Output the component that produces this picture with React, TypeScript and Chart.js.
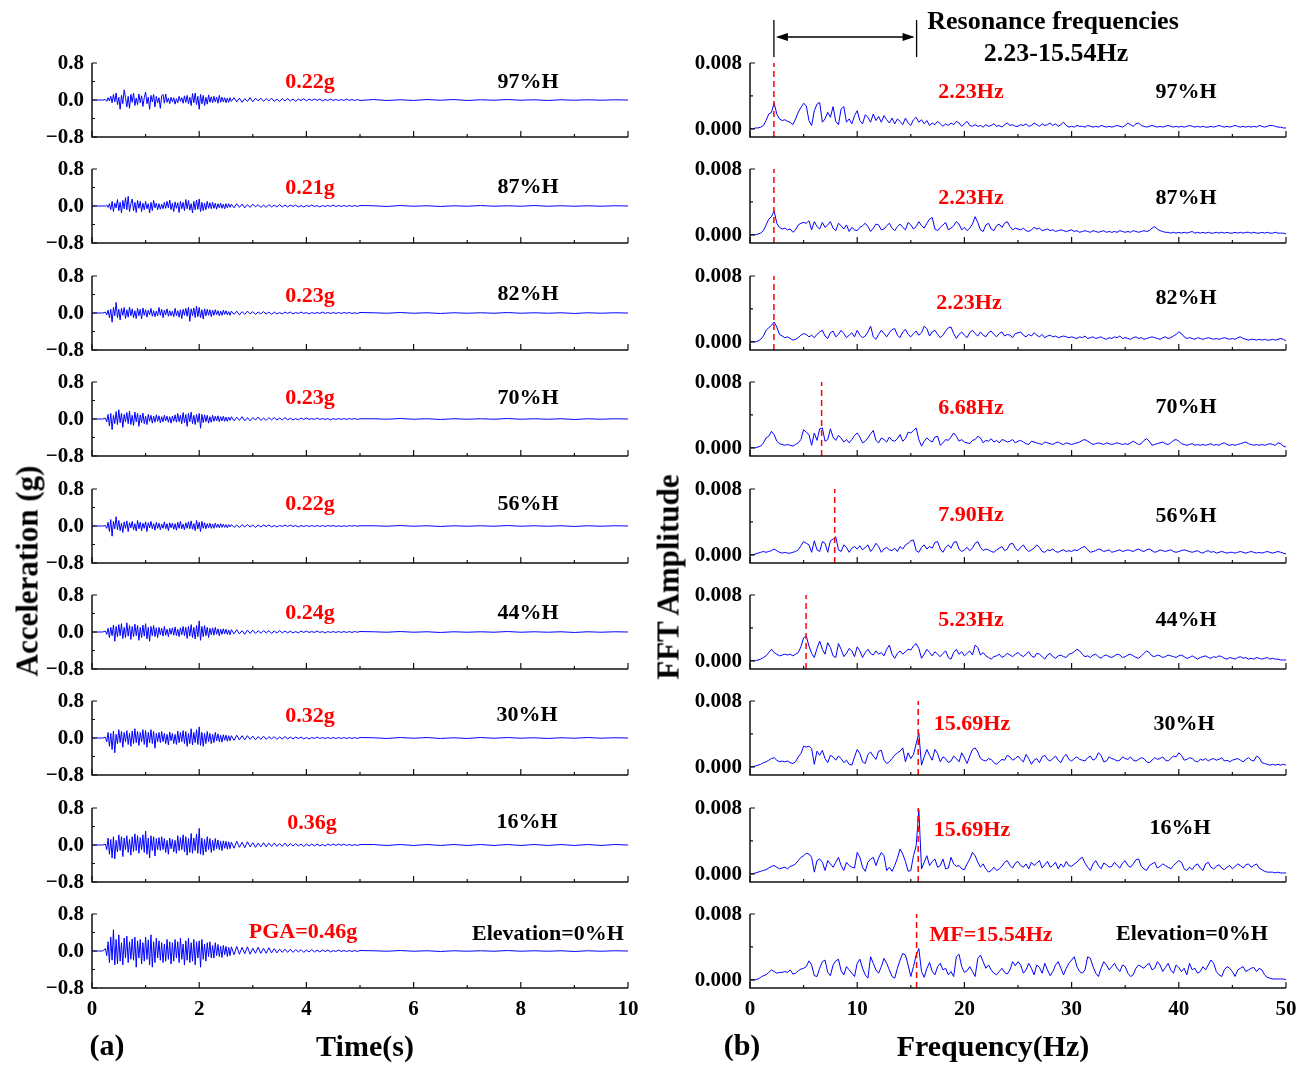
import React, { useEffect, useRef } from 'react';
import { Chart, registerables } from 'chart.js';

Chart.register(...registerables);

// ---------- (a) acceleration time histories ----------
const TIME = [
  0, 0.2,
  0.25, 0.275, 0.3, 0.325, 0.35, 0.375, 0.4, 0.425, 0.45, 0.475,
  0.5, 0.525, 0.55, 0.575, 0.6, 0.625, 0.65, 0.675, 0.7, 0.725,
  0.75, 0.775, 0.8, 0.825, 0.85, 0.875, 0.9, 0.925, 0.95, 0.975,
  1, 1.025, 1.05, 1.075, 1.1, 1.125, 1.15, 1.175, 1.2, 1.225,
  1.25, 1.275, 1.3, 1.325, 1.35, 1.375, 1.4, 1.425, 1.45, 1.475,
  1.5, 1.525, 1.55, 1.575, 1.6, 1.625, 1.65, 1.675, 1.7, 1.725,
  1.75, 1.775, 1.8, 1.825, 1.85, 1.875, 1.9, 1.925, 1.95, 1.975,
  2, 2.025, 2.05, 2.075, 2.1, 2.125, 2.15, 2.175, 2.2, 2.225,
  2.25, 2.275, 2.3, 2.325, 2.35, 2.375, 2.4, 2.425, 2.45, 2.475,
  2.5, 2.525, 2.55, 2.575, 2.6,
  2.65, 2.7, 2.75, 2.8, 2.85, 2.9, 2.95, 3, 3.05, 3.1,
  3.15, 3.2, 3.25, 3.3, 3.35, 3.4, 3.45, 3.5, 3.55, 3.6,
  3.65, 3.7, 3.75, 3.8, 3.85, 3.9, 3.95, 4, 4.05, 4.1,
  4.15, 4.2, 4.25, 4.3, 4.35, 4.4, 4.45, 4.5, 4.55, 4.6,
  4.65, 4.7, 4.75, 4.8, 4.85, 4.9, 4.95, 5,
  5.25, 5.5, 5.75, 6, 6.25, 6.5, 6.75, 7, 7.25, 7.5,
  7.75, 8, 8.25, 8.5, 8.75, 9, 9.25, 9.5, 9.75, 10,
];

const ACC_97H = [
  0, 0,
  0.01, -0.03, 0.05, -0.02, 0.08, -0.06, 0.12, -0.04, 0.15, -0.1,
  0.06, -0.2, 0.1, -0.08, 0.22, 0.05, -0.15, 0.08, -0.18, 0.12,
  -0.05, 0.15, -0.12, 0.04, -0.1, 0.13, -0.06, 0.09, -0.14, 0.05,
  0.17, -0.08, 0.06, -0.2, 0.1, -0.04, 0.12, -0.15, 0.08, -0.06,
  0.05, -0.18, 0.09, 0.12, -0.07, 0.13, -0.05, 0.04, -0.08, 0.06,
  -0.04, 0.05, -0.09, 0.03, -0.06, 0.08, -0.03, 0.05, -0.07, 0.09,
  -0.05, 0.1, -0.08, 0.06, -0.12, 0.14, -0.06, 0.15, -0.1, 0.08,
  -0.2, 0.12, -0.08, 0.1, -0.12, 0.06, -0.09, 0.11, -0.05, 0.07,
  -0.06, 0.08, -0.04, 0.06, -0.07, 0.1, -0.05, 0.06, -0.04, 0.05,
  -0.06, 0.04, -0.05, 0.05, -0.03,
  0.05, -0.04, 0.04, -0.05, 0.03, -0.03, 0.05, -0.04, 0.04, -0.02,
  0.04, -0.03, 0.03, -0.02, 0.04, -0.03, 0.02, -0.03, 0.03, -0.02,
  0.03, -0.02, 0.02, -0.03, 0.02, -0.01, 0.03, -0.02, 0.02, -0.01,
  0.02, -0.01, 0.02, -0.02, 0.01, -0.01, 0.02, -0.01, 0.01, -0.01,
  0.01, -0.01, 0.02, -0.01, 0.01, -0.01, 0.01, -0.01,
  0.01, -0.01, 0.005, -0.01, 0.01, -0.005, 0.01, -0.01, 0.005, -0.005,
  0.01, -0.005, 0.005, -0.01, 0.005, -0.005, 0.005, -0.005, 0.005, 0,
];

const ACC_87H = [
  0, 0,
  0, 0.02, -0.03, 0.05, -0.08, 0.1, -0.12, 0.06, -0.04, 0.14,
  -0.1, 0.08, -0.15, 0.12, -0.06, 0.18, -0.08, 0.21, -0.12, 0.05,
  0.15, -0.1, 0.08, -0.14, 0.12, -0.05, 0.1, -0.12, 0.06, -0.08,
  0.1, -0.06, 0.05, -0.15, 0.08, -0.1, 0.12, -0.04, 0.06, -0.08,
  0.05, -0.07, 0.04, -0.06, 0.08, -0.05, 0.1, -0.04, 0.13, -0.08,
  0.06, -0.12, 0.09, -0.05, 0.07, -0.14, 0.1, -0.06, 0.08, -0.1,
  0.14, -0.06, 0.12, -0.09, 0.05, -0.15, 0.1, -0.08, 0.13, -0.07,
  0.15, -0.12, 0.08, -0.1, 0.06, -0.08, 0.1, -0.05, 0.07, -0.06,
  0.08, -0.05, 0.06, -0.07, 0.05, -0.04, 0.06, -0.05, 0.04, -0.06,
  0.05, -0.04, 0.05, -0.03, 0.04,
  -0.04, 0.05, -0.03, 0.04, -0.04, 0.03, -0.03, 0.04, -0.02, 0.03,
  -0.03, 0.02, -0.03, 0.03, -0.02, 0.02, -0.02, 0.03, -0.02, 0.02,
  -0.02, 0.02, -0.01, 0.02, -0.02, 0.01, -0.02, 0.01, -0.01, 0.02,
  -0.01, 0.01, -0.02, 0.01, -0.01, 0.01, -0.01, 0.02, -0.01, 0.01,
  -0.01, 0.01, -0.01, 0.01, -0.01, 0.01, -0.01, 0.01,
  0.005, -0.01, 0.01, -0.005, 0.005, -0.01, 0.005, -0.005, 0.01, -0.005,
  0.005, -0.005, 0.01, -0.005, 0.005, -0.005, 0.005, -0.005, 0.005, 0,
];

const ACC_82H = [
  0, 0,
  0.02, -0.04, 0.06, -0.1, 0.08, -0.2, 0.12, -0.06, 0.23, -0.1,
  0.08, -0.15, 0.1, -0.05, 0.12, -0.12, 0.07, -0.09, 0.13, -0.06,
  0.09, -0.1, 0.05, -0.12, 0.1, -0.06, 0.08, -0.13, 0.11, -0.05,
  0.07, -0.09, 0.06, -0.04, 0.1, -0.07, 0.05, -0.08, 0.04, -0.06,
  0.12, -0.05, 0.08, -0.1, 0.06, -0.04, 0.09, -0.07, 0.05, -0.06,
  0.04, -0.08, 0.1, -0.06, 0.05, -0.09, 0.07, -0.12, 0.08, -0.05,
  0.1, -0.07, 0.13, -0.18, 0.09, -0.06, 0.11, -0.1, 0.15, -0.08,
  0.12, -0.1, 0.07, -0.13, 0.09, -0.06, 0.08, -0.05, 0.07, -0.08,
  0.06, -0.05, 0.07, -0.04, 0.05, -0.06, 0.04, -0.05, 0.06, -0.03,
  0.05, -0.04, 0.03, -0.05, 0.04,
  -0.03, 0.04, -0.04, 0.03, -0.03, 0.04, -0.02, 0.03, -0.03, 0.02,
  -0.02, 0.03, -0.02, 0.02, -0.03, 0.02, -0.02, 0.01, -0.02, 0.02,
  -0.01, 0.02, -0.02, 0.01, -0.01, 0.02, -0.01, 0.01, -0.02, 0.01,
  -0.01, 0.01, -0.01, 0.02, -0.01, 0.01, -0.01, 0.01, -0.01, 0.01,
  -0.01, 0.01, -0.005, 0.01, -0.01, 0.005, -0.01, 0.01,
  0.005, -0.005, 0.01, -0.005, 0.005, -0.01, 0.005, -0.005, 0.005, -0.005,
  0.01, -0.005, 0.005, -0.005, 0.005, -0.01, 0.005, -0.005, 0.005, 0,
];

const ACC_70H = [
  0, 0,
  0.02, -0.06, 0.1, -0.15, 0.12, -0.23, 0.08, -0.1, 0.16, -0.12,
  0.2, -0.08, 0.12, -0.18, 0.1, -0.06, 0.14, -0.1, 0.17, -0.12,
  0.08, -0.14, 0.15, -0.06, 0.12, -0.16, 0.09, -0.08, 0.13, -0.1,
  0.06, -0.12, 0.1, -0.05, 0.08, -0.09, 0.06, -0.07, 0.09, -0.05,
  0.07, -0.08, 0.05, -0.06, 0.08, -0.04, 0.06, -0.07, 0.05, -0.09,
  0.06, -0.05, 0.09, -0.07, 0.12, -0.06, 0.08, -0.1, 0.14, -0.08,
  0.1, -0.16, 0.12, -0.06, 0.15, -0.1, 0.08, -0.12, 0.1, -0.07,
  0.12, -0.2, 0.1, -0.08, 0.09, -0.06, 0.08, -0.09, 0.05, -0.07,
  0.08, -0.05, 0.06, -0.04, 0.07, -0.06, 0.05, -0.04, 0.06, -0.05,
  0.04, -0.05, 0.04, -0.03, 0.05,
  -0.04, 0.04, -0.03, 0.05, -0.04, 0.03, -0.04, 0.03, -0.02, 0.04,
  -0.03, 0.02, -0.03, 0.03, -0.02, 0.03, -0.02, 0.02, -0.02, 0.03,
  -0.02, 0.02, -0.02, 0.01, -0.02, 0.02, -0.01, 0.02, -0.01, 0.01,
  -0.01, 0.02, -0.01, 0.01, -0.01, 0.01, -0.02, 0.01, -0.01, 0.01,
  -0.01, 0.01, -0.01, 0.01, -0.005, 0.01, -0.01, 0.005,
  0.005, -0.005, 0.01, -0.005, 0.005, -0.01, 0.005, -0.005, 0.005, -0.005,
  0.01, -0.005, 0.005, -0.005, 0.005, -0.01, 0.005, -0.005, 0.005, 0,
];

const ACC_56H = [
  0, 0,
  0.01, -0.05, 0.08, -0.12, 0.14, -0.22, 0.1, -0.06, 0.2, -0.08,
  0.12, -0.1, 0.06, -0.14, 0.09, -0.05, 0.11, -0.12, 0.07, -0.04,
  0.1, -0.08, 0.05, -0.11, 0.12, -0.06, 0.08, -0.1, 0.06, -0.05,
  0.09, -0.12, 0.07, -0.04, 0.1, -0.06, 0.05, -0.09, 0.08, -0.05,
  0.06, -0.08, 0.04, -0.05, 0.09, -0.06, 0.05, -0.1, 0.07, -0.04,
  0.06, -0.07, 0.05, -0.09, 0.08, -0.05, 0.1, -0.06, 0.04, -0.08,
  0.07, -0.05, 0.09, -0.06, 0.11, -0.07, 0.05, -0.1, 0.12, -0.06,
  0.08, -0.12, 0.1, -0.05, 0.07, -0.06, 0.05, -0.04, 0.06, -0.05,
  0.04, -0.05, 0.06, -0.03, 0.04, -0.04, 0.05, -0.03, 0.04, -0.03,
  0.03, -0.04, 0.03, -0.02, 0.03,
  -0.03, 0.02, -0.03, 0.03, -0.02, 0.03, -0.02, 0.02, -0.03, 0.02,
  -0.02, 0.02, -0.01, 0.02, -0.02, 0.01, -0.02, 0.01, -0.01, 0.02,
  -0.01, 0.02, -0.01, 0.01, -0.02, 0.01, -0.01, 0.01, -0.01, 0.01,
  -0.01, 0.01, -0.01, 0.01, -0.01, 0.01, -0.005, 0.01, -0.01, 0.005,
  -0.01, 0.005, -0.01, 0.01, -0.005, 0.01, -0.005, 0.005,
  0.005, -0.005, 0.01, -0.005, 0.005, -0.01, 0.005, -0.005, 0.005, -0.005,
  0.01, -0.005, 0.005, -0.005, 0.005, -0.01, 0.005, -0.005, 0.005, 0,
];

const ACC_44H = [
  0, 0,
  0.02, -0.05, 0.08, -0.12, 0.1, -0.08, 0.15, -0.2, 0.12, -0.1,
  0.16, -0.08, 0.18, -0.14, 0.1, -0.12, 0.2, -0.09, 0.14, -0.16,
  0.12, -0.1, 0.17, -0.08, 0.14, -0.18, 0.1, -0.12, 0.15, -0.09,
  0.18, -0.15, 0.1, -0.2, 0.12, -0.08, 0.14, -0.1, 0.09, -0.12,
  0.1, -0.06, 0.08, -0.09, 0.12, -0.07, 0.06, -0.1, 0.08, -0.05,
  0.09, -0.07, 0.11, -0.08, 0.06, -0.1, 0.09, -0.06, 0.12, -0.08,
  0.1, -0.14, 0.12, -0.09, 0.16, -0.12, 0.1, -0.15, 0.14, -0.1,
  0.24, -0.18, 0.12, -0.1, 0.14, -0.08, 0.1, -0.12, 0.08, -0.06,
  0.09, -0.07, 0.1, -0.05, 0.07, -0.08, 0.06, -0.05, 0.07, -0.04,
  0.06, -0.05, 0.04, -0.06, 0.05,
  -0.04, 0.05, -0.04, 0.03, -0.05, 0.04, -0.03, 0.04, -0.03, 0.03,
  -0.03, 0.03, -0.02, 0.03, -0.03, 0.02, -0.02, 0.03, -0.02, 0.02,
  -0.02, 0.02, -0.02, 0.01, -0.02, 0.02, -0.01, 0.02, -0.01, 0.01,
  -0.01, 0.02, -0.01, 0.01, -0.02, 0.01, -0.01, 0.01, -0.01, 0.01,
  -0.01, 0.01, -0.01, 0.01, -0.01, 0.01, -0.005, 0.01,
  0.005, -0.005, 0.01, -0.005, 0.005, -0.01, 0.005, -0.005, 0.005, -0.005,
  0.01, -0.005, 0.005, -0.005, 0.005, -0.01, 0.005, -0.005, 0.005, 0,
];

const ACC_30H = [
  0, 0,
  0.02, -0.08, 0.12, -0.18, 0.1, -0.25, 0.15, -0.32, 0.08, -0.12,
  0.18, -0.1, 0.14, -0.2, 0.12, -0.08, 0.16, -0.14, 0.1, -0.18,
  0.15, -0.12, 0.2, -0.1, 0.14, -0.16, 0.12, -0.08, 0.18, -0.14,
  0.16, -0.2, 0.12, -0.1, 0.18, -0.12, 0.14, -0.22, 0.1, -0.08,
  0.12, -0.1, 0.14, -0.08, 0.1, -0.12, 0.08, -0.15, 0.13, -0.06,
  0.1, -0.12, 0.08, -0.14, 0.15, -0.1, 0.12, -0.08, 0.16, -0.12,
  0.14, -0.18, 0.1, -0.12, 0.2, -0.15, 0.12, -0.1, 0.18, -0.14,
  0.24, -0.16, 0.12, -0.18, 0.1, -0.12, 0.14, -0.08, 0.1, -0.12,
  0.08, -0.1, 0.12, -0.06, 0.09, -0.08, 0.06, -0.09, 0.07, -0.05,
  0.06, -0.07, 0.05, -0.06, 0.05,
  -0.05, 0.06, -0.04, 0.05, -0.04, 0.05, -0.03, 0.04, -0.04, 0.03,
  -0.03, 0.04, -0.03, 0.03, -0.02, 0.03, -0.03, 0.02, -0.02, 0.03,
  -0.02, 0.02, -0.02, 0.02, -0.01, 0.02, -0.02, 0.01, -0.02, 0.01,
  -0.01, 0.02, -0.01, 0.01, -0.01, 0.01, -0.01, 0.01, -0.01, 0.01,
  -0.01, 0.01, -0.01, 0.01, -0.01, 0.01, -0.01, 0.01,
  0.005, -0.01, 0.01, -0.005, 0.01, -0.01, 0.005, -0.01, 0.01, -0.005,
  0.01, -0.005, 0.005, -0.01, 0.005, -0.005, 0.01, -0.005, 0.005, 0,
];

const ACC_16H = [
  0, 0,
  0.02, -0.1, 0.15, -0.2, 0.12, -0.28, 0.18, -0.3, 0.1, -0.15,
  0.22, -0.12, 0.18, -0.25, 0.15, -0.1, 0.2, -0.16, 0.12, -0.22,
  0.18, -0.14, 0.24, -0.12, 0.2, -0.18, 0.16, -0.1, 0.22, -0.16,
  0.3, -0.2, 0.15, -0.28, 0.2, -0.12, 0.18, -0.24, 0.14, -0.1,
  0.16, -0.12, 0.18, -0.1, 0.14, -0.16, 0.1, -0.2, 0.15, -0.08,
  0.12, -0.15, 0.1, -0.18, 0.2, -0.12, 0.16, -0.1, 0.22, -0.15,
  0.18, -0.22, 0.14, -0.16, 0.25, -0.18, 0.15, -0.12, 0.24, -0.18,
  0.36, -0.2, 0.15, -0.22, 0.12, -0.15, 0.18, -0.1, 0.14, -0.16,
  0.1, -0.12, 0.14, -0.08, 0.11, -0.1, 0.08, -0.12, 0.09, -0.07,
  0.08, -0.09, 0.07, -0.08, 0.06,
  -0.07, 0.08, -0.05, 0.06, -0.06, 0.07, -0.04, 0.05, -0.05, 0.04,
  -0.04, 0.05, -0.04, 0.04, -0.03, 0.04, -0.03, 0.03, -0.03, 0.04,
  -0.03, 0.03, -0.02, 0.03, -0.02, 0.02, -0.03, 0.02, -0.02, 0.02,
  -0.02, 0.02, -0.02, 0.01, -0.02, 0.02, -0.01, 0.02, -0.01, 0.02,
  -0.01, 0.02, -0.01, 0.01, -0.01, 0.01, -0.01, 0.01,
  0.01, -0.01, 0.01, -0.01, 0.01, -0.01, 0.01, -0.01, 0.01, -0.01,
  0.01, -0.01, 0.01, -0.01, 0.01, -0.01, 0.01, -0.01, 0.01, 0,
];

const ACC_0H = [
  0, 0,
  0.05, -0.1, 0.2, -0.25, 0.3, -0.2, 0.46, -0.3, 0.25, -0.28,
  0.35, -0.22, 0.18, -0.3, 0.28, -0.15, 0.32, -0.25, 0.2, -0.18,
  0.26, -0.2, 0.3, -0.35, 0.22, -0.15, 0.25, -0.28, 0.18, -0.22,
  0.3, -0.18, 0.24, -0.3, 0.35, -0.35, 0.2, -0.25, 0.28, -0.15,
  0.22, -0.2, 0.18, -0.25, 0.15, -0.22, 0.25, -0.18, 0.2, -0.28,
  0.18, -0.22, 0.25, -0.15, 0.2, -0.25, 0.28, -0.18, 0.15, -0.3,
  0.22, -0.2, 0.28, -0.25, 0.18, -0.22, 0.25, -0.3, 0.2, -0.15,
  0.22, -0.35, 0.25, -0.18, 0.15, -0.22, 0.18, -0.12, 0.2, -0.15,
  0.12, -0.15, 0.18, -0.1, 0.14, -0.12, 0.1, -0.14, 0.12, -0.08,
  0.1, -0.12, 0.08, -0.1, 0.09,
  -0.08, 0.1, -0.07, 0.08, -0.06, 0.09, -0.07, 0.06, -0.05, 0.08,
  -0.05, 0.06, -0.05, 0.07, -0.04, 0.05, -0.04, 0.04, -0.03, 0.04,
  -0.03, 0.04, -0.03, 0.03, -0.02, 0.03, -0.03, 0.02, -0.02, 0.03,
  -0.02, 0.02, -0.02, 0.02, -0.01, 0.02, -0.02, 0.01, -0.01, 0.02,
  -0.01, 0.01, -0.01, 0.01, -0.01, 0.01, -0.01, 0.01,
  0.005, -0.005, 0.01, -0.005, 0.005, -0.01, 0.005, -0.005, 0.005, -0.005,
  0.01, -0.005, 0.005, -0.005, 0.005, -0.01, 0.005, -0.005, 0.005, 0,
];

// ---------- (b) Fourier amplitude spectra ----------
const FREQ = [
  0, 0.25, 0.5, 0.75, 1, 1.25, 1.5, 1.75, 2, 2.25, 2.5, 2.75, 3, 3.25, 3.5, 3.75, 4, 4.25, 4.5, 4.75,
  5, 5.25, 5.5, 5.75, 6, 6.25, 6.5, 6.75, 7, 7.25, 7.5, 7.75, 8, 8.25, 8.5, 8.75, 9, 9.25, 9.5, 9.75,
  10, 10.25, 10.5, 10.75, 11, 11.25, 11.5, 11.75, 12, 12.25, 12.5, 12.75, 13, 13.25, 13.5, 13.75, 14, 14.25, 14.5, 14.75,
  15, 15.25, 15.5, 15.75, 16, 16.25, 16.5, 16.75, 17, 17.25, 17.5, 17.75, 18, 18.25, 18.5, 18.75, 19, 19.25, 19.5, 19.75,
  20, 20.25, 20.5, 20.75, 21, 21.25, 21.5, 21.75, 22, 22.25, 22.5, 22.75, 23, 23.25, 23.5, 23.75, 24, 24.25, 24.5, 24.75,
  25, 25.25, 25.5, 25.75, 26, 26.25, 26.5, 26.75, 27, 27.25, 27.5, 27.75, 28, 28.25, 28.5, 28.75, 29, 29.25, 29.5, 29.75,
  30, 30.25, 30.5, 30.75, 31, 31.25, 31.5, 31.75, 32, 32.25, 32.5, 32.75, 33, 33.25, 33.5, 33.75, 34, 34.25, 34.5, 34.75,
  35, 35.25, 35.5, 35.75, 36, 36.25, 36.5, 36.75, 37, 37.25, 37.5, 37.75, 38, 38.25, 38.5, 38.75, 39, 39.25, 39.5, 39.75,
  40, 40.25, 40.5, 40.75, 41, 41.25, 41.5, 41.75, 42, 42.25, 42.5, 42.75, 43, 43.25, 43.5, 43.75, 44, 44.25, 44.5, 44.75,
  45, 45.25, 45.5, 45.75, 46, 46.25, 46.5, 46.75, 47, 47.25, 47.5, 47.75, 48, 48.25, 48.5, 48.75, 49, 49.25, 49.5, 49.75,
  50,
];

const FFT_97H = [
  0, 0, 0.0001, 0.0001, 0.0002, 0.0004, 0.001, 0.0018, 0.002, 0.0031, 0.0018, 0.0012, 0.001, 0.0011, 0.0009, 0.0008, 0.0005, 0.0012, 0.002, 0.0026,
  0.0031, 0.0028, 0.001, 0.0004, 0.0022, 0.003, 0.0032, 0.0008, 0.0012, 0.002, 0.0014, 0.0027, 0.0009, 0.0005, 0.0024, 0.0027, 0.0008, 0.0012, 0.0006, 0.0016,
  0.0022, 0.001, 0.0006, 0.0017, 0.0014, 0.0008, 0.0018, 0.001, 0.0015, 0.0008, 0.0016, 0.0011, 0.0007, 0.0013, 0.0006, 0.0012, 0.0009, 0.0005, 0.0013, 0.0007,
  0.0004, 0.0011, 0.0014, 0.0008, 0.0011, 0.0006, 0.001, 0.0004, 0.0007, 0.0005, 0.0009, 0.0006, 0.0003, 0.0006, 0.0004, 0.0007, 0.0005, 0.0009, 0.0007, 0.0003,
  0.0006, 0.0009, 0.0004, 0.0003, 0.0005, 0.0003, 0.0004, 0.0002, 0.0005, 0.0003, 0.0004, 0.0006, 0.0003, 0.0004, 0.0002, 0.0005, 0.0007, 0.0004, 0.0005, 0.0003,
  0.0003, 0.0005, 0.0004, 0.0006, 0.0003, 0.0004, 0.0007, 0.0005, 0.0003, 0.0006, 0.0004, 0.0005, 0.0007, 0.0004, 0.0006, 0.0003, 0.0005, 0.0008, 0.0004, 0.0002,
  0.0003, 0.0002, 0.0004, 0.0003, 0.0003, 0.0002, 0.0004, 0.0003, 0.0002, 0.0003, 0.0002, 0.0004, 0.0003, 0.0002, 0.0003, 0.0002, 0.0003, 0.0004, 0.0003, 0.0002,
  0.0004, 0.0007, 0.0005, 0.0003, 0.0006, 0.0007, 0.0004, 0.0003, 0.0002, 0.0003, 0.0004, 0.0003, 0.0002, 0.0003, 0.0002, 0.0003, 0.0004, 0.0003, 0.0002, 0.0003,
  0.0002, 0.0003, 0.0002, 0.0003, 0.0004, 0.0003, 0.0002, 0.0003, 0.0002, 0.0003, 0.0002, 0.0002, 0.0003, 0.0002, 0.0003, 0.0004, 0.0003, 0.0002, 0.0003, 0.0002,
  0.0003, 0.0004, 0.0003, 0.0002, 0.0003, 0.0002, 0.0003, 0.0002, 0.0003, 0.0002, 0.0004, 0.0003, 0.0002, 0.0003, 0.0004, 0.0004, 0.0003, 0.0002, 0.0002, 0.0001,
  0.0001,
];

const FFT_87H = [
  0, 0, 0, 0.0001, 0.0002, 0.0005, 0.0012, 0.0019, 0.0022, 0.0029, 0.0014, 0.0009, 0.0007, 0.0008, 0.0006, 0.0007, 0.0003, 0.0006, 0.0012, 0.0014,
  0.0015, 0.0014, 0.0017, 0.0006, 0.0016, 0.001, 0.0007, 0.0015, 0.0009, 0.0012, 0.0016, 0.0008, 0.0005, 0.0014, 0.0011, 0.0007, 0.0012, 0.0004, 0.0009, 0.0006,
  0.0005, 0.0009, 0.0011, 0.0014, 0.001, 0.0004, 0.0008, 0.0013, 0.0012, 0.0006, 0.0007, 0.0011, 0.0014, 0.0008, 0.0005, 0.001, 0.0013, 0.0009, 0.0006, 0.0015,
  0.0012, 0.0007, 0.001, 0.0016, 0.0011, 0.0008, 0.0014, 0.0019, 0.0021, 0.0007, 0.0005, 0.0009, 0.0012, 0.0015, 0.0006, 0.0008, 0.0011, 0.0016, 0.0013, 0.0006,
  0.0009, 0.0005, 0.0008, 0.0013, 0.0022, 0.0015, 0.0006, 0.0004, 0.0012, 0.0014, 0.0007, 0.0005, 0.0011, 0.0013, 0.0009, 0.0014, 0.0016, 0.001, 0.0006, 0.0008,
  0.0007, 0.0006, 0.0008, 0.0005, 0.0004, 0.0006, 0.0009, 0.0007, 0.0008, 0.0005, 0.0006, 0.0007, 0.0005, 0.0006, 0.0004, 0.0005, 0.0006, 0.0005, 0.0004, 0.0005,
  0.0006, 0.0004, 0.0005, 0.0003, 0.0004, 0.0005, 0.0004, 0.0003, 0.0005, 0.0004, 0.0003, 0.0004, 0.0005, 0.0003, 0.0004, 0.0003, 0.0004, 0.0003, 0.0005, 0.0004,
  0.0003, 0.0004, 0.0003, 0.0005, 0.0004, 0.0003, 0.0004, 0.0005, 0.0004, 0.0005, 0.0008, 0.001, 0.0007, 0.0005, 0.0004, 0.0003, 0.0003, 0.0002, 0.0003, 0.0002,
  0.0003, 0.0002, 0.0003, 0.0002, 0.0003, 0.0004, 0.0002, 0.0003, 0.0002, 0.0003, 0.0002, 0.0003, 0.0002, 0.0002, 0.0003, 0.0002, 0.0003, 0.0002, 0.0003, 0.0002,
  0.0002, 0.0003, 0.0002, 0.0003, 0.0002, 0.0003, 0.0003, 0.0002, 0.0003, 0.0002, 0.0002, 0.0003, 0.0002, 0.0003, 0.0002, 0.0002, 0.0003, 0.0002, 0.0002, 0.0002,
  0.0001,
];

const FFT_82H = [
  0, 0, 0, 0.0001, 0.0003, 0.0007, 0.0014, 0.0017, 0.002, 0.0024, 0.0018, 0.0009, 0.0007, 0.0005, 0.0006, 0.0004, 0.0002, 0.0003, 0.0005, 0.0008,
  0.001, 0.0009, 0.0006, 0.0008, 0.0005, 0.0009, 0.0012, 0.0014, 0.0007, 0.0004, 0.0011, 0.0013, 0.0006, 0.0009, 0.0014, 0.001, 0.0005, 0.0008, 0.0011, 0.0006,
  0.0014, 0.0008, 0.0005, 0.0007, 0.0012, 0.0019, 0.0006, 0.0003, 0.0009, 0.0014, 0.001, 0.0006, 0.0011, 0.0015, 0.0016, 0.0008, 0.0005, 0.0012, 0.0015, 0.0009,
  0.0006, 0.001, 0.0013, 0.0008, 0.0011, 0.0019, 0.0016, 0.0007, 0.0012, 0.0014, 0.0009, 0.0005, 0.0008, 0.0013, 0.0017, 0.0018, 0.001, 0.0004, 0.0009, 0.0012,
  0.0008, 0.0005, 0.0011, 0.0014, 0.001, 0.0007, 0.0012, 0.0008, 0.0006, 0.0011, 0.0013, 0.0009, 0.0006, 0.001, 0.0012, 0.0007, 0.0009, 0.0008, 0.0005, 0.001,
  0.0011, 0.0012, 0.0008, 0.0006, 0.0009, 0.0007, 0.0011, 0.0008, 0.0006, 0.0009, 0.0005, 0.0007, 0.0008, 0.0006, 0.0007, 0.0005, 0.0006, 0.0007, 0.0006, 0.0005,
  0.0006, 0.0005, 0.0004, 0.0006, 0.0005, 0.0007, 0.0004, 0.0005, 0.0006, 0.0004, 0.0005, 0.0006, 0.0004, 0.0003, 0.0005, 0.0004, 0.0006, 0.0005, 0.0007, 0.0004,
  0.0005, 0.0004, 0.0003, 0.0005, 0.0006, 0.0004, 0.0005, 0.0003, 0.0004, 0.0005, 0.0006, 0.0005, 0.0004, 0.0003, 0.0005, 0.0006, 0.0004, 0.0005, 0.0007, 0.0009,
  0.0012, 0.001, 0.0006, 0.0004, 0.0005, 0.0004, 0.0003, 0.0005, 0.0004, 0.0003, 0.0004, 0.0005, 0.0004, 0.0003, 0.0004, 0.0003, 0.0004, 0.0005, 0.0004, 0.0003,
  0.0004, 0.0003, 0.0005, 0.0006, 0.0004, 0.0003, 0.0002, 0.0003, 0.0003, 0.0002, 0.0003, 0.0002, 0.0003, 0.0002, 0.0002, 0.0003, 0.0002, 0.0003, 0.0004, 0.0003,
  0.0001,
];

const FFT_70H = [
  0, 0, 0, 0.0001, 0.0002, 0.0006, 0.0012, 0.0014, 0.002, 0.0016, 0.0008, 0.0005, 0.0004, 0.0003, 0.0004, 0.0003, 0.0002, 0.0004, 0.0006, 0.001,
  0.0022, 0.0019, 0.0016, 0.0003, 0.0018, 0.0009, 0.0023, 0.0024, 0.0008, 0.001, 0.0023, 0.0013, 0.0009, 0.0015, 0.0012, 0.0007, 0.001, 0.0006, 0.001, 0.0015,
  0.0018, 0.0013, 0.0006, 0.0008, 0.0012, 0.0017, 0.0021, 0.0009, 0.0006, 0.0012, 0.001, 0.0007, 0.0013, 0.0009, 0.0008, 0.0011, 0.0016, 0.0008, 0.0011, 0.0019,
  0.0018, 0.0021, 0.0024, 0.001, 0.0002, 0.0008, 0.0012, 0.0009, 0.0007, 0.0013, 0.0014, 0.0003, 0.0006, 0.001, 0.0009, 0.0013, 0.0018, 0.0014, 0.0008, 0.001,
  0.0007, 0.0006, 0.0005, 0.0009, 0.001, 0.0014, 0.0012, 0.0006, 0.0009, 0.0008, 0.0011, 0.0007, 0.0009, 0.0006, 0.001, 0.0009, 0.0007, 0.0008, 0.001, 0.0006,
  0.0008, 0.0009, 0.0007, 0.0005, 0.0004, 0.0008, 0.0007, 0.0006, 0.0005, 0.0004, 0.0007, 0.0006, 0.0005, 0.0004, 0.0006, 0.0007, 0.0005, 0.0004, 0.0006, 0.0005,
  0.0004, 0.0005, 0.0006, 0.0007, 0.0009, 0.001, 0.0008, 0.0006, 0.0004, 0.0005, 0.0006, 0.0005, 0.0004, 0.0006, 0.0005, 0.0004, 0.0005, 0.0006, 0.0005, 0.0004,
  0.0005, 0.0004, 0.0006, 0.0008, 0.0006, 0.0004, 0.0005, 0.0009, 0.0011, 0.0008, 0.0003, 0.0004, 0.0005, 0.0006, 0.0007, 0.0005, 0.0004, 0.0006, 0.0009, 0.001,
  0.0008, 0.0005, 0.0004, 0.0003, 0.0004, 0.0005, 0.0003, 0.0004, 0.0003, 0.0004, 0.0003, 0.0004, 0.0005, 0.0003, 0.0004, 0.0003, 0.0005, 0.0006, 0.0004, 0.0003,
  0.0004, 0.0003, 0.0004, 0.0005, 0.0006, 0.0007, 0.0005, 0.0004, 0.0003, 0.0004, 0.0003, 0.0004, 0.0003, 0.0004, 0.0005, 0.0004, 0.0003, 0.0006, 0.0005, 0.0002,
  0.0001,
];

const FFT_56H = [
  0, 0, 0.0001, 0.0002, 0.0003, 0.0004, 0.0003, 0.0004, 0.0005, 0.0007, 0.0005, 0.0003, 0.0002, 0.0003, 0.0002, 0.0002, 0.0003, 0.0004, 0.0006, 0.0011,
  0.0016, 0.0014, 0.0012, 0.0003, 0.0017, 0.0006, 0.0004, 0.0016, 0.0014, 0.0003, 0.0017, 0.0019, 0.0022, 0.0006, 0.0004, 0.0012, 0.0009, 0.0003, 0.0008, 0.001,
  0.0007, 0.0011, 0.0006, 0.0009, 0.0012, 0.0004, 0.0008, 0.0014, 0.001, 0.0003, 0.0007, 0.0009, 0.0006, 0.0005, 0.0008, 0.0004, 0.001, 0.0007, 0.0012, 0.0014,
  0.0017, 0.0018, 0.0005, 0.0003, 0.0009, 0.0012, 0.0007, 0.001, 0.0008, 0.0015, 0.0016, 0.0007, 0.0003, 0.0009, 0.0012, 0.0008, 0.0015, 0.0016, 0.0007, 0.0004,
  0.0006, 0.0009, 0.0005, 0.0008, 0.0014, 0.0016, 0.0009, 0.0005, 0.0007, 0.0006, 0.0004, 0.0003, 0.0006, 0.0008, 0.001, 0.0005, 0.0007, 0.0013, 0.0014, 0.0008,
  0.0005, 0.0009, 0.0012, 0.0007, 0.0004, 0.0006, 0.0008, 0.0012, 0.0009, 0.0004, 0.0003, 0.0006, 0.0005, 0.0007, 0.0004, 0.0003, 0.0005, 0.0006, 0.0004, 0.0005,
  0.0004, 0.0006, 0.0005, 0.0007, 0.0009, 0.001, 0.0006, 0.0003, 0.0004, 0.0005, 0.0007, 0.0006, 0.0004, 0.0005, 0.0006, 0.0003, 0.0004, 0.0005, 0.0006, 0.0004,
  0.0005, 0.0006, 0.0005, 0.0004, 0.0006, 0.0007, 0.0005, 0.0004, 0.0006, 0.0007, 0.0005, 0.0003, 0.0004, 0.0006, 0.0005, 0.0004, 0.0005, 0.0006, 0.0004, 0.0003,
  0.0004, 0.0005, 0.0006, 0.0005, 0.0004, 0.0003, 0.0004, 0.0005, 0.0003, 0.0002, 0.0004, 0.0005, 0.0003, 0.0004, 0.0002, 0.0003, 0.0004, 0.0003, 0.0002, 0.0003,
  0.0003, 0.0002, 0.0003, 0.0004, 0.0003, 0.0002, 0.0003, 0.0004, 0.0003, 0.0002, 0.0003, 0.0002, 0.0003, 0.0004, 0.0003, 0.0002, 0.0003, 0.0004, 0.0003, 0.0002,
  0.0001,
];

const FFT_44H = [
  0, 0, 0, 0.0001, 0.0002, 0.0004, 0.0006, 0.001, 0.0014, 0.001, 0.0008, 0.0006, 0.0007, 0.0008, 0.0007, 0.0008, 0.0006, 0.0008, 0.001, 0.0017,
  0.0028, 0.003, 0.0018, 0.0009, 0.0004, 0.0015, 0.0024, 0.0014, 0.0008, 0.0022, 0.0016, 0.0006, 0.0004, 0.0021, 0.0014, 0.0005, 0.0009, 0.0015, 0.0012, 0.0005,
  0.0017, 0.0012, 0.0004, 0.001, 0.0014, 0.0009, 0.0007, 0.0012, 0.0008, 0.001, 0.0006, 0.0014, 0.0019, 0.0008, 0.0003, 0.0009, 0.0012, 0.0008, 0.0011, 0.0014,
  0.0013, 0.0018, 0.0021, 0.0015, 0.0003, 0.0008, 0.0014, 0.001, 0.0006, 0.0011, 0.0008, 0.0005, 0.0009, 0.0012, 0.0004, 0.0002, 0.001, 0.0014, 0.0008, 0.0011,
  0.0006, 0.0009, 0.0012, 0.0007, 0.0019, 0.0016, 0.0007, 0.001, 0.0006, 0.0004, 0.0002, 0.0005, 0.0006, 0.0008, 0.0004, 0.0006, 0.0009, 0.0007, 0.0005, 0.0008,
  0.001, 0.0007, 0.0005, 0.0008, 0.0011, 0.0006, 0.0004, 0.0009, 0.0008, 0.0005, 0.0002, 0.0007, 0.0009, 0.0005, 0.0003, 0.0006, 0.0007, 0.0005, 0.0004, 0.0008,
  0.0009, 0.0011, 0.0014, 0.0012, 0.0008, 0.0005, 0.0006, 0.0004, 0.0007, 0.0008, 0.0005, 0.0003, 0.0006, 0.0007, 0.0005, 0.0004, 0.0006, 0.0008, 0.0007, 0.0004,
  0.0005, 0.0007, 0.0008, 0.0006, 0.0004, 0.0003, 0.0006, 0.0009, 0.0012, 0.001, 0.0006, 0.0005, 0.0007, 0.0006, 0.0004, 0.0005, 0.0007, 0.0006, 0.0005, 0.0004,
  0.0006, 0.0007, 0.0005, 0.0003, 0.0004, 0.0006, 0.0004, 0.0002, 0.0004, 0.0005, 0.0006, 0.0004, 0.0003, 0.0005, 0.0004, 0.0006, 0.0005, 0.0003, 0.0002, 0.0004,
  0.0003, 0.0002, 0.0004, 0.0005, 0.0003, 0.0004, 0.0002, 0.0003, 0.0002, 0.0004, 0.0003, 0.0002, 0.0003, 0.0004, 0.0002, 0.0003, 0.0002, 0.0002, 0.0001, 0.0001,
  0.0001,
];

const FFT_30H = [
  0, 0, 0.0001, 0.0002, 0.0003, 0.0005, 0.0006, 0.0008, 0.001, 0.0011, 0.0008, 0.0006, 0.0007, 0.0006, 0.0007, 0.0005, 0.0004, 0.0006, 0.0012, 0.0016,
  0.0025, 0.0024, 0.0025, 0.0022, 0.0003, 0.0019, 0.0014, 0.002, 0.001, 0.0005, 0.0014, 0.0012, 0.0008, 0.0013, 0.001, 0.0005, 0.0008, 0.0003, 0.0002, 0.0012,
  0.0021, 0.0016, 0.0006, 0.0004, 0.0015, 0.0018, 0.0013, 0.0009, 0.0019, 0.002, 0.0008, 0.0004, 0.0006, 0.001, 0.0014, 0.0017, 0.0019, 0.0023, 0.0006, 0.0017,
  0.001, 0.0015, 0.0028, 0.0041, 0.0002, 0.0012, 0.0021, 0.0014, 0.0008, 0.0021, 0.0016, 0.0006, 0.0012, 0.001, 0.0005, 0.0007, 0.0013, 0.001, 0.0006, 0.0017,
  0.0011, 0.0004, 0.0013, 0.0021, 0.0023, 0.0018, 0.001, 0.0008, 0.0007, 0.001, 0.0009, 0.0005, 0.0003, 0.0006, 0.0009, 0.0008, 0.0014, 0.0012, 0.0008, 0.001,
  0.0013, 0.0009, 0.0006, 0.0015, 0.001, 0.0003, 0.0008, 0.001, 0.0005, 0.0012, 0.0014, 0.0009, 0.0007, 0.001, 0.0013, 0.0008, 0.0005, 0.0012, 0.0015, 0.0009,
  0.0007, 0.001, 0.0012, 0.0009, 0.0008, 0.0007, 0.0011, 0.0013, 0.0008, 0.001, 0.0017, 0.0014, 0.0006, 0.0007, 0.0012, 0.001, 0.0009, 0.0007, 0.0008, 0.0012,
  0.001, 0.0009, 0.0012, 0.0008, 0.0007, 0.0009, 0.0011, 0.001, 0.0006, 0.0005, 0.0008, 0.0011, 0.0009, 0.001, 0.0012, 0.0008, 0.0007, 0.001, 0.0013, 0.0012,
  0.0017, 0.0014, 0.0008, 0.0009, 0.0011, 0.001, 0.0007, 0.0006, 0.0009, 0.0008, 0.001, 0.0007, 0.0009, 0.001, 0.0008, 0.0009, 0.0011, 0.0007, 0.0008, 0.0006,
  0.0008, 0.0009, 0.001, 0.0008, 0.0006, 0.0009, 0.0011, 0.0008, 0.0007, 0.0013, 0.0011, 0.0005, 0.0004, 0.0003, 0.0002, 0.0003, 0.0002, 0.0003, 0.0002, 0.0003,
  0.0002,
];

const FFT_16H = [
  0, 0, 0.0001, 0.0002, 0.0003, 0.0004, 0.0005, 0.0007, 0.0009, 0.001, 0.0008, 0.0006, 0.0007, 0.0008, 0.0006, 0.0009, 0.001, 0.0012, 0.0016, 0.002,
  0.0022, 0.0025, 0.0024, 0.002, 0.0002, 0.0016, 0.0018, 0.0014, 0.0004, 0.0016, 0.0012, 0.0008, 0.0014, 0.002, 0.001, 0.0004, 0.0014, 0.001, 0.0008, 0.0007,
  0.0026, 0.002, 0.0008, 0.0003, 0.0014, 0.0018, 0.002, 0.001, 0.0019, 0.0026, 0.0022, 0.0004, 0.0008, 0.0003, 0.001, 0.0019, 0.003, 0.0024, 0.0015, 0.0003,
  0.0004, 0.0022, 0.0034, 0.0078, 0.0006, 0.0014, 0.0022, 0.001, 0.0015, 0.0018, 0.0008, 0.001, 0.0018, 0.0006, 0.0007, 0.002, 0.0012, 0.0009, 0.001, 0.0006,
  0.0005, 0.0012, 0.0018, 0.0026, 0.0022, 0.0014, 0.0008, 0.0012, 0.0006, 0.0002, 0.0004, 0.0008, 0.0004, 0.0006, 0.0009, 0.0014, 0.0016, 0.001, 0.0007, 0.0013,
  0.0015, 0.001, 0.0008, 0.0012, 0.0006, 0.0014, 0.001, 0.0013, 0.0016, 0.0007, 0.0011, 0.0015, 0.0008, 0.001, 0.0014, 0.0006, 0.0012, 0.0008, 0.0015, 0.001,
  0.0009, 0.0012, 0.0014, 0.0018, 0.002, 0.0013, 0.0008, 0.0004, 0.0012, 0.0016, 0.001, 0.0006, 0.0013, 0.0011, 0.0008, 0.0009, 0.0014, 0.001, 0.0007, 0.0013,
  0.0016, 0.001, 0.0008, 0.0012, 0.0017, 0.0018, 0.0009, 0.0006, 0.0004, 0.001, 0.0012, 0.0014, 0.0007, 0.0009, 0.0012, 0.001, 0.0008, 0.0006, 0.001, 0.0013,
  0.0016, 0.0014, 0.0006, 0.0004, 0.0008, 0.0005, 0.001, 0.0012, 0.0007, 0.0004, 0.0012, 0.0014, 0.0008, 0.0006, 0.0009, 0.0011, 0.0007, 0.0005, 0.0008, 0.001,
  0.0006, 0.0009, 0.0012, 0.001, 0.0007, 0.0011, 0.0012, 0.0008, 0.001, 0.0012, 0.0007, 0.0005, 0.0003, 0.0002, 0.0002, 0.0002, 0.0001, 0.0002, 0.0001, 0.0001,
  0.0001,
];

const FFT_0H = [
  0, 0, 0, 0.0001, 0.0003, 0.0005, 0.0006, 0.0009, 0.0012, 0.001, 0.0008, 0.0009, 0.0009, 0.001, 0.0009, 0.0012, 0.0007, 0.0008, 0.0011, 0.0013,
  0.0014, 0.0016, 0.0023, 0.0018, 0.0005, 0.0004, 0.0014, 0.0022, 0.0024, 0.0009, 0.0005, 0.0018, 0.0023, 0.0025, 0.0011, 0.0006, 0.0016, 0.0012, 0.0008, 0.0004,
  0.002, 0.0025, 0.0014, 0.0006, 0.0002, 0.0028, 0.002, 0.0012, 0.0008, 0.0016, 0.0026, 0.002, 0.0012, 0.0004, 0.0002, 0.0014, 0.0024, 0.0032, 0.003, 0.0018,
  0.0004, 0.0016, 0.003, 0.0038, 0.001, 0.0003, 0.0014, 0.0021, 0.001, 0.0006, 0.0016, 0.002, 0.0012, 0.0014, 0.0006, 0.001, 0.0004, 0.0028, 0.0031, 0.0016,
  0.0009, 0.0011, 0.0016, 0.001, 0.0004, 0.0026, 0.003, 0.0022, 0.0014, 0.0018, 0.0012, 0.0008, 0.0006, 0.001, 0.0014, 0.0009, 0.0007, 0.0012, 0.0022, 0.0017,
  0.0022, 0.0018, 0.0008, 0.0012, 0.002, 0.0014, 0.0006, 0.0018, 0.0015, 0.0008, 0.002, 0.0012, 0.0005, 0.001, 0.0018, 0.0022, 0.0014, 0.0006, 0.0014, 0.002,
  0.0024, 0.0028, 0.0016, 0.001, 0.0008, 0.0012, 0.0028, 0.0026, 0.0016, 0.0008, 0.0004, 0.0014, 0.0022, 0.0018, 0.0012, 0.0016, 0.002, 0.0014, 0.001, 0.0018,
  0.0016, 0.0008, 0.0004, 0.0006, 0.0014, 0.0018, 0.0016, 0.0014, 0.0018, 0.002, 0.0012, 0.0014, 0.0022, 0.0018, 0.001, 0.0015, 0.002, 0.0012, 0.0008, 0.0018,
  0.0015, 0.001, 0.0014, 0.0006, 0.002, 0.0012, 0.0014, 0.0008, 0.001, 0.0016, 0.0012, 0.0018, 0.0024, 0.002, 0.001, 0.0006, 0.0004, 0.0012, 0.0016, 0.0014,
  0.001, 0.0004, 0.0012, 0.0014, 0.0016, 0.001, 0.0012, 0.0014, 0.0015, 0.001, 0.0014, 0.0012, 0.0006, 0.0003, 0.0002, 0.0001, 0.0001, 0.0001, 0.0001, 0.0001,
  0,
];

// ---------- labels & ticks ----------
const ACC_SERIES = [ACC_97H, ACC_87H, ACC_82H, ACC_70H, ACC_56H, ACC_44H, ACC_30H, ACC_16H, ACC_0H];
const FFT_SERIES = [FFT_97H, FFT_87H, FFT_82H, FFT_70H, FFT_56H, FFT_44H, FFT_30H, FFT_16H, FFT_0H];
const ELEVATION_LABELS = ['97%H', '87%H', '82%H', '70%H', '56%H', '44%H', '30%H', '16%H', 'Elevation=0%H'];
const PGA_LABELS = ['0.22g', '0.21g', '0.23g', '0.23g', '0.22g', '0.24g', '0.32g', '0.36g', 'PGA=0.46g'];
const PEAK_FREQS = [2.23, 2.23, 2.23, 6.68, 7.9, 5.23, 15.69, 15.69, 15.54];
const PEAK_LABELS = ['2.23Hz', '2.23Hz', '2.23Hz', '6.68Hz', '7.90Hz', '5.23Hz', '15.69Hz', '15.69Hz', 'MF=15.54Hz'];
const RESONANCE_RANGE = [2.23, 15.54];

const ACC_RANGE = [-0.8, 0.8];
const FFT_RANGE = [-0.001, 0.008];
const ACC_TICKS = [-0.8, 0, 0.8];
const ACC_MINOR = [-0.4, 0.4];
const FFT_TICKS = [0, 0.008];
const FFT_MINOR = [0.004];
const TIME_TICKS = [0, 2, 4, 6, 8, 10];
const TIME_MINOR = [1, 3, 5, 7, 9];
const FREQ_TICKS = [0, 10, 20, 30, 40, 50];
const FREQ_MINOR = [5, 15, 25, 35, 45];

// ---------- layout ----------
const SERIF = '"Liberation Serif", "Times New Roman", Times, serif';
const ROW_TOPS = [63, 169, 276, 382, 489, 595, 701, 808, 914];
const PANEL_H = 74;
const PANEL_W = 536;
const LEFT_X = 92;
const RIGHT_X = 750;
const AXIS_W = 90;
const PAD_R = 20;

const ACC_LABEL_POS = [
  [310, 81, 528, 81], [310, 187, 528, 186], [310, 295, 528, 293], [310, 397, 528, 397],
  [310, 503, 528, 503], [310, 612, 528, 612], [310, 715, 527, 714], [312, 822, 527, 821],
  [303, 931, 548, 933],
];
const FFT_LABEL_POS = [
  [971, 91, 1186, 91], [971, 197, 1186, 197], [969, 302, 1186, 297], [971, 407, 1186, 406],
  [971, 514, 1186, 515], [971, 619, 1186, 619], [972, 723, 1184, 723], [972, 829, 1180, 827],
  [991, 934, 1192, 933],
];

function makeAxesPlugin(cfg: any) {
  return {
    id: 'panelAxes',
    afterDatasetsDraw(chart: any) {
      const { ctx, chartArea } = chart;
      const { left, right, top, bottom } = chartArea;
      const xs = chart.scales.x;
      const ys = chart.scales.y;
      ctx.save();
      ctx.strokeStyle = '#111';
      ctx.lineWidth = 1.5;
      ctx.beginPath();
      ctx.moveTo(left, top);
      ctx.lineTo(left, bottom);
      ctx.lineTo(right, bottom);
      ctx.stroke();
      ctx.lineWidth = 1.2;
      ctx.beginPath();
      cfg.xMajor.forEach((v: number) => { const p = xs.getPixelForValue(v); ctx.moveTo(p, bottom); ctx.lineTo(p, bottom - 6); });
      cfg.xMinor.forEach((v: number) => { const p = xs.getPixelForValue(v); ctx.moveTo(p, bottom); ctx.lineTo(p, bottom - 3); });
      cfg.yMajor.forEach((v: number) => { const p = ys.getPixelForValue(v); ctx.moveTo(left, p); ctx.lineTo(left + 5, p); });
      cfg.yMinor.forEach((v: number) => { const p = ys.getPixelForValue(v); ctx.moveTo(left, p); ctx.lineTo(left + 3, p); });
      ctx.stroke();
      if (cfg.resonance) {
        const x1 = xs.getPixelForValue(cfg.resonance[0]);
        const x2 = xs.getPixelForValue(cfg.resonance[1]);
        const yA = top - 26;
        ctx.strokeStyle = '#000';
        ctx.fillStyle = '#000';
        ctx.lineWidth = 1.3;
        ctx.beginPath();
        ctx.moveTo(x1, top - 43); ctx.lineTo(x1, top - 6);
        ctx.moveTo(x2, top - 43); ctx.lineTo(x2, top - 6);
        ctx.moveTo(x1 + 4, yA); ctx.lineTo(x2 - 4, yA);
        ctx.stroke();
        ctx.beginPath();
        ctx.moveTo(x1 + 2, yA); ctx.lineTo(x1 + 14, yA - 4); ctx.lineTo(x1 + 14, yA + 4); ctx.closePath();
        ctx.moveTo(x2 - 2, yA); ctx.lineTo(x2 - 14, yA - 4); ctx.lineTo(x2 - 14, yA + 4); ctx.closePath();
        ctx.fill();
      }
      ctx.restore();
    },
  };
}

function Panel({ kind, row }: { kind: 'acc' | 'fft'; row: number }) {
  const ref = useRef<HTMLCanvasElement>(null);
  const isLast = row === ROW_TOPS.length - 1;
  const isFft = kind === 'fft';
  const padTop = isFft && row === 0 ? 63 : 30;
  const bottomH = isLast ? 44 : 30;
  const width = AXIS_W + PANEL_W + PAD_R;
  const height = padTop + PANEL_H + bottomH;
  const left = (isFft ? RIGHT_X : LEFT_X) - AXIS_W;
  const top = ROW_TOPS[row] - padTop;

  useEffect(() => {
    if (!ref.current) return;
    const xs = isFft ? FREQ : TIME;
    const ys = isFft ? FFT_SERIES[row] : ACC_SERIES[row];
    const n = Math.min(xs.length, ys.length);
    const pts = [];
    for (let i = 0; i < n; i++) pts.push({ x: xs[i], y: ys[i] });
    const datasets: any[] = [];
    if (isFft) {
      datasets.push({
        data: [{ x: PEAK_FREQS[row], y: FFT_RANGE[0] }, { x: PEAK_FREQS[row], y: FFT_RANGE[1] }],
        borderColor: '#ff0000',
        borderWidth: 1.5,
        borderDash: [6, 4],
        pointRadius: 0,
        fill: false,
      });
    }
    datasets.push({
      data: pts,
      borderColor: '#0000ff',
      borderWidth: 1,
      pointRadius: 0,
      tension: 0,
      fill: false,
    });
    const tickFont = { family: SERIF, size: 21, weight: 'bold' as const };
    const yTicks = isFft ? FFT_TICKS : ACC_TICKS;
    const xTicks = isFft ? FREQ_TICKS : TIME_TICKS;
    const yr = isFft ? FFT_RANGE : ACC_RANGE;
    const chart = new Chart(ref.current, {
      type: 'line',
      data: { datasets },
      options: {
        responsive: false,
        animation: false,
        devicePixelRatio: 1,
        events: [],
        layout: { padding: { top: padTop, right: PAD_R, left: 0, bottom: 0 } },
        plugins: { legend: { display: false }, tooltip: { enabled: false } },
        scales: {
          x: {
            type: 'linear',
            position: 'bottom',
            min: 0,
            max: isFft ? 50 : 10,
            afterBuildTicks: (s: any) => { s.ticks = xTicks.map((v) => ({ value: v })); },
            afterFit: (s: any) => { s.height = bottomH; },
            grid: { display: false, drawTicks: false },
            border: { display: false },
            ticks: {
              display: isLast,
              autoSkip: false,
              maxRotation: 0,
              padding: 9,
              color: '#000',
              font: tickFont,
              callback: (v: any) => String(v),
            },
          },
          y: {
            type: 'linear',
            min: yr[0],
            max: yr[1],
            afterBuildTicks: (s: any) => { s.ticks = yTicks.map((v) => ({ value: v })); },
            afterFit: (s: any) => { s.width = AXIS_W; },
            grid: { display: false, drawTicks: false },
            border: { display: false },
            ticks: {
              padding: 8,
              labelOffset: 1,
              color: '#000',
              font: tickFont,
              callback: (v: any) => {
                const num = Number(v);
                const s = Math.abs(num).toFixed(isFft ? 3 : 1);
                return num < 0 ? '\u2212' + s : s;
              },
            },
          },
        },
      } as any,
      plugins: [
        makeAxesPlugin({
          xMajor: xTicks,
          xMinor: isFft ? FREQ_MINOR : TIME_MINOR,
          yMajor: yTicks,
          yMinor: isFft ? FFT_MINOR : ACC_MINOR,
          resonance: isFft && row === 0 ? RESONANCE_RANGE : null,
        }),
      ],
    });
    return () => chart.destroy();
  }, []);

  return (
    <canvas
      ref={ref}
      width={width}
      height={height}
      style={{ position: 'absolute', left, top, width, height }}
    />
  );
}

function Txt({ x, y, text, color = '#000', size = 22, rotate = false }: any) {
  return (
    <div
      style={{
        position: 'absolute',
        left: x,
        top: y,
        transform: `translate(-50%, -50%)${rotate ? ' rotate(-90deg)' : ''}`,
        color,
        fontFamily: SERIF,
        fontWeight: 'bold',
        fontSize: size,
        lineHeight: 1,
        whiteSpace: 'nowrap',
      }}
    >
      {text}
    </div>
  );
}

export default function App() {
  return (
    <div
      style={{
        position: 'absolute',
        left: 0,
        top: 0,
        width: 1316,
        height: 1065,
        background: '#ffffff',
        overflow: 'hidden',
      }}
    >
      {ROW_TOPS.map((_, i) => <Panel key={'a' + i} kind="acc" row={i} />)}
      {ROW_TOPS.map((_, i) => <Panel key={'b' + i} kind="fft" row={i} />)}
      {ACC_LABEL_POS.map((p, i) => (
        <React.Fragment key={'la' + i}>
          <Txt x={p[0]} y={p[1]} text={PGA_LABELS[i]} color="#ff0000" />
          <Txt x={p[2]} y={p[3]} text={ELEVATION_LABELS[i]} />
        </React.Fragment>
      ))}
      {FFT_LABEL_POS.map((p, i) => (
        <React.Fragment key={'lb' + i}>
          <Txt x={p[0]} y={p[1]} text={PEAK_LABELS[i]} color="#ff0000" />
          <Txt x={p[2]} y={p[3]} text={ELEVATION_LABELS[i]} />
        </React.Fragment>
      ))}
      <Txt x={1053} y={21} text="Resonance frequencies" size={26} />
      <Txt x={1056} y={53} text="2.23-15.54Hz" size={26} />
      <Txt x={27} y={571} text="Acceleration (g)" size={31} rotate />
      <Txt x={668} y={577} text="FFT Amplitude" size={31} rotate />
      <Txt x={365} y={1046} text="Time(s)" size={30} />
      <Txt x={107} y={1045} text="(a)" size={30} />
      <Txt x={993} y={1046} text="Frequency(Hz)" size={30} />
      <Txt x={742} y={1045} text="(b)" size={30} />
    </div>
  );
}
